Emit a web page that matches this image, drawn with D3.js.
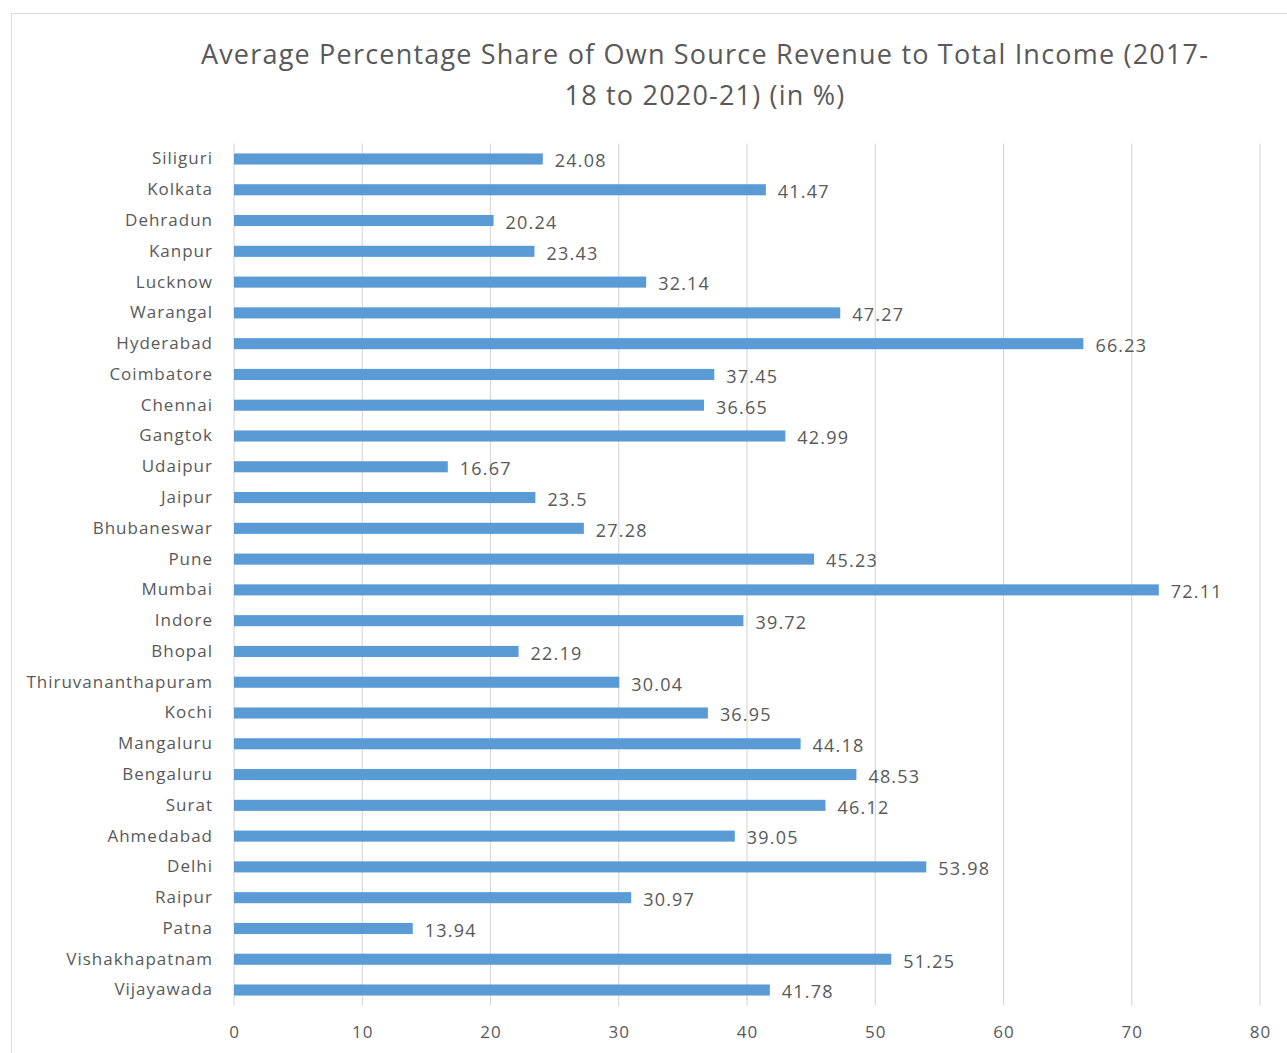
<!DOCTYPE html>
<html>
<head>
<meta charset="utf-8">
<script src="https://cdn.jsdelivr.net/npm/d3@7"></script>
<style>
  body { margin: 0; background: #fff; }
  text { font-family: "Open Sans", "Noto Sans", sans-serif; fill: #595959; }
</style>
</head>
<body>
<svg id="chart" width="1287" height="1053"></svg>
<script>
var cities = ['Siliguri', 'Kolkata', 'Dehradun', 'Kanpur', 'Lucknow', 'Warangal', 'Hyderabad',
  'Coimbatore', 'Chennai', 'Gangtok', 'Udaipur', 'Jaipur', 'Bhubaneswar', 'Pune', 'Mumbai',
  'Indore', 'Bhopal', 'Thiruvananthapuram', 'Kochi', 'Mangaluru', 'Bengaluru', 'Surat',
  'Ahmedabad', 'Delhi', 'Raipur', 'Patna', 'Vishakhapatnam', 'Vijayawada'];
var shares = [24.08, 41.47, 20.24, 23.43, 32.14, 47.27, 66.23, 37.45, 36.65, 42.99, 16.67, 23.5,
  27.28, 45.23, 72.11, 39.72, 22.19, 30.04, 36.95, 44.18, 48.53, 46.12, 39.05, 53.98, 30.97,
  13.94, 51.25, 41.78];
var shareLabels = ['24.08', '41.47', '20.24', '23.43', '32.14', '47.27', '66.23', '37.45', '36.65',
  '42.99', '16.67', '23.5', '27.28', '45.23', '72.11', '39.72', '22.19', '30.04', '36.95', '44.18',
  '48.53', '46.12', '39.05', '53.98', '30.97', '13.94', '51.25', '41.78'];
var xTicks = [0, 10, 20, 30, 40, 50, 60, 70, 80];
var titleLines = ['Average Percentage Share of Own Source Revenue to Total Income (2017-',
  '18 to 2020-21) (in %)'];

var data = cities.map(function (c, i) {
  return { city: c, value: shares[i], label: shareLabels[i] };
});

var svg = d3.select('#chart');

// chart frame
svg.append('rect')
  .attr('x', 11.5).attr('y', 13.5)
  .attr('width', 1290).attr('height', 1060)
  .attr('fill', '#fff')
  .attr('stroke', '#d9d9d9');

var x = d3.scaleLinear().domain([0, 80]).range([234, 1260]);
var y = d3.scaleBand().domain(cities).range([143.6, 1005.4]).paddingInner(0.64).paddingOuter(0.32);

// title
svg.append('text')
  .attr('text-anchor', 'middle')
  .attr('font-size', 27)
  .attr('letter-spacing', 1.2)
  .selectAll('tspan')
  .data(titleLines)
  .enter().append('tspan')
  .attr('x', 705)
  .attr('y', function (d, i) { return 64 + i * 41; })
  .text(function (d) { return d; });

// gridlines
svg.append('g')
  .selectAll('line')
  .data(xTicks)
  .enter().append('line')
  .attr('x1', function (d) { return x(d); })
  .attr('x2', function (d) { return x(d); })
  .attr('y1', 143.6)
  .attr('y2', 1005.4)
  .attr('stroke', '#d9d9d9')
  .attr('stroke-width', 1.2);

// x axis labels
var xAxis = d3.axisBottom(x).tickValues(xTicks).tickSize(0).tickPadding(0);
var gx = svg.append('g')
  .attr('transform', 'translate(0,1026)')
  .call(xAxis);
gx.select('.domain').remove();
gx.selectAll('text')
  .attr('font-size', 17)
  .attr('letter-spacing', 1)
  .attr('fill', '#595959')
  .style('font-family', '"Open Sans", "Noto Sans", sans-serif');

// y axis labels
var yAxis = d3.axisLeft(y).tickSize(0).tickPadding(0);
var gy = svg.append('g')
  .attr('transform', 'translate(213,0)')
  .call(yAxis);
gy.select('.domain').remove();
gy.selectAll('text')
  .attr('font-size', 17)
  .attr('letter-spacing', 1)
  .attr('fill', '#595959')
  .style('font-family', '"Open Sans", "Noto Sans", sans-serif');

// bars
svg.append('g')
  .selectAll('rect')
  .data(data)
  .enter().append('rect')
  .attr('x', x(0))
  .attr('y', function (d) { return y(d.city); })
  .attr('width', function (d) { return x(d.value) - x(0); })
  .attr('height', y.bandwidth())
  .attr('fill', '#5b9bd5');

// value labels
svg.append('g')
  .selectAll('text')
  .data(data)
  .enter().append('text')
  .attr('x', function (d) { return x(d.value) + 12; })
  .attr('y', function (d) { return y(d.city) + y.bandwidth() / 2 + 2; })
  .attr('dy', '0.35em')
  .attr('font-size', 18)
  .attr('letter-spacing', 1.2)
  .text(function (d) { return d.label; });
</script>
</body>
</html>
